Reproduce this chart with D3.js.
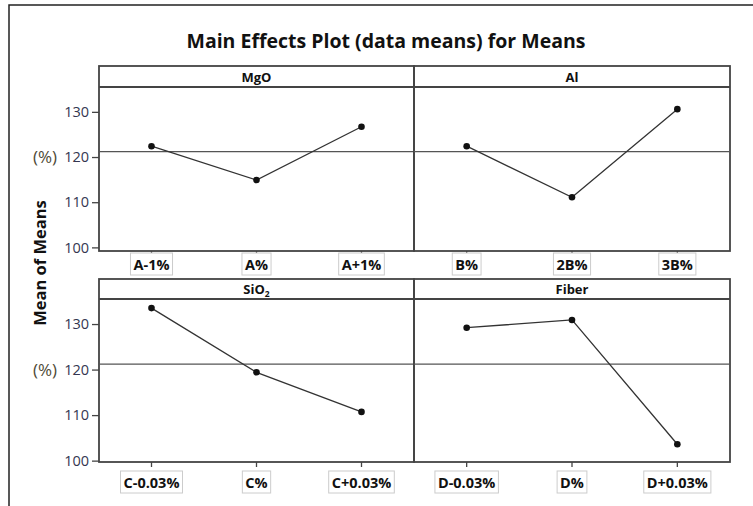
<!DOCTYPE html>
<html>
<head>
<meta charset="utf-8">
<script src="https://cdn.jsdelivr.net/npm/d3@7"></script>
<style>
  body { margin: 0; background: #fff; }
  svg { display: block; font-family: "Open Sans", "DejaVu Sans", sans-serif; }
</style>
</head>
<body>
<div id="chart"></div>
<script>
// factors and their levels
const factors = ['MgO', 'Al', 'SiO2', 'Fiber'];
const levels = [
  ['A-1%', 'A%', 'A+1%'],
  ['B%', '2B%', '3B%'],
  ['C-0.03%', 'C%', 'C+0.03%'],
  ['D-0.03%', 'D%', 'D+0.03%']
];
// mean of means at each level
const means = [
  [122.4, 114.9, 126.7],
  [122.4, 111.1, 130.6],
  [133.5, 119.4, 110.7],
  [129.2, 130.9, 103.6]
];
const grandMean = 121.2;
const yTicks = [100, 110, 120, 130];

const width = 753, height = 506;
const svg = d3.select('#chart').append('svg')
  .attr('width', width)
  .attr('height', height);

// outer frame (cut off at right / bottom)
svg.append('rect')
  .attr('x', 9).attr('y', 5)
  .attr('width', 800).attr('height', 600)
  .attr('fill', 'none').attr('stroke', '#222').attr('stroke-width', 1.5);

svg.append('text')
  .attr('x', 386).attr('y', 48)
  .attr('text-anchor', 'middle')
  .attr('font-size', 19.5).attr('font-weight', 'bold')
  .attr('fill', '#111')
  .text('Main Effects Plot (data means) for Means');

svg.append('text')
  .attr('transform', 'translate(46,263) rotate(-90)')
  .attr('text-anchor', 'middle')
  .attr('font-size', 16.5).attr('font-weight', 'bold')
  .attr('fill', '#111')
  .text('Mean of Means');

const cols = [[99, 414], [414, 730]];
const rows = [
  { strip: 66, top: 87, bottom: 251, domain: [99.2, 135.5], labelTop: 253 },
  { strip: 279, top: 299, bottom: 462, domain: [99.7, 135.5], labelTop: 471 }
];

factors.forEach((name, i) => {
  const r = rows[Math.floor(i / 2)];
  const c = cols[i % 2];
  const x = d3.scalePoint().domain(levels[i]).range(c).padding(0.5);
  const y = d3.scaleLinear().domain(r.domain).range([r.bottom, r.top]);
  const g = svg.append('g');

  // strip + panel frame
  g.append('rect')
    .attr('x', c[0]).attr('y', r.strip)
    .attr('width', c[1] - c[0]).attr('height', r.bottom - r.strip)
    .attr('fill', 'none').attr('stroke', '#444').attr('stroke-width', 1.8);
  g.append('line')
    .attr('x1', c[0]).attr('x2', c[1])
    .attr('y1', r.top).attr('y2', r.top)
    .attr('stroke', '#444').attr('stroke-width', 1.8);

  const strip = g.append('text')
    .attr('x', (c[0] + c[1]) / 2).attr('y', r.top - 5)
    .attr('text-anchor', 'middle')
    .attr('font-size', 13).attr('font-weight', 'bold')
    .attr('fill', '#111');
  if (name === 'SiO2') {
    strip.text('SiO');
    strip.append('tspan').attr('font-size', 8.5).attr('dy', 3).text('2');
  } else {
    strip.text(name);
  }

  // reference line at the grand mean
  g.append('line')
    .attr('x1', c[0]).attr('x2', c[1])
    .attr('y1', y(grandMean)).attr('y2', y(grandMean))
    .attr('stroke', '#555').attr('stroke-width', 1.3);

  // y axis only on the left column
  if (i % 2 === 0) {
    const ax = g.append('g')
      .attr('transform', `translate(${c[0]},0)`)
      .call(d3.axisLeft(y).tickValues(yTicks).tickSize(7).tickPadding(3));
    ax.select('.domain').remove();
    ax.selectAll('line').attr('stroke', '#444').attr('stroke-width', 1.3);
    ax.selectAll('text')
      .attr('font-size', 14.5).attr('fill', '#343650')
      .attr('font-family', '"Open Sans", sans-serif');
    g.append('text')
      .attr('x', 57).attr('y', y(120) + 6)
      .attr('text-anchor', 'end')
      .attr('font-size', 17).attr('fill', '#4e4a36')
      .text('(%)');
  }

  // x ticks
  g.selectAll('.xt').data(levels[i]).enter().append('line')
    .attr('x1', d => x(d)).attr('x2', d => x(d))
    .attr('y1', r.bottom).attr('y2', r.bottom + 5)
    .attr('stroke', '#444').attr('stroke-width', 1.3);

  // boxed level labels
  const lab = g.selectAll('.lab').data(levels[i]).enter().append('g');
  const txt = lab.append('text')
    .attr('x', d => x(d)).attr('y', r.labelTop + 17)
    .attr('text-anchor', 'middle')
    .attr('font-size', 14.5).attr('font-weight', 'bold')
    .attr('fill', '#111')
    .text(d => d);
  txt.each(function () {
    const b = this.getBBox();
    d3.select(this.parentNode).insert('rect', 'text')
      .attr('x', b.x - 3).attr('y', r.labelTop)
      .attr('width', b.width + 6).attr('height', 22)
      .attr('fill', '#fff').attr('stroke', '#ccc').attr('stroke-width', 1);
  });

  // the means line and points
  const pts = levels[i].map((l, k) => [l, means[i][k]]);
  g.append('path')
    .attr('d', d3.line().x(d => x(d[0])).y(d => y(d[1]))(pts))
    .attr('fill', 'none').attr('stroke', '#333').attr('stroke-width', 1.3);
  g.selectAll('circle').data(pts).enter().append('circle')
    .attr('cx', d => x(d[0])).attr('cy', d => y(d[1]))
    .attr('r', 3.3).attr('fill', '#111');
});
</script>
</body>
</html>
